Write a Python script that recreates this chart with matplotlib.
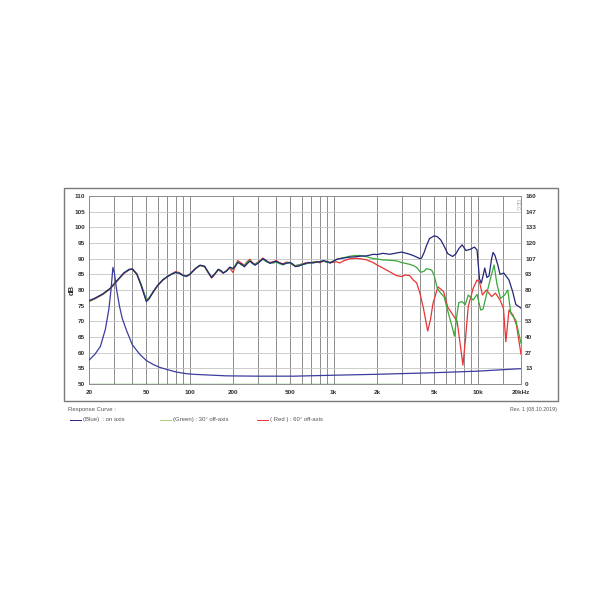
"""
plot.py

Loudspeaker response curve: on-axis, 30 and 60 degree off-axis SPL
plus the impedance trace, drawn on a log frequency axis.
"""

#####################################
# Import Modules
#####################################

import matplotlib
matplotlib.use("Agg")
import matplotlib.pyplot as plt
from matplotlib.patches import Rectangle
from matplotlib.lines import Line2D

#####################################
# Data
#####################################

# shared frequency points for the low / mid band (Hz)
low_freq = [20, 22, 25, 28, 31, 35, 38, 40, 43, 46, 50, 52, 56, 60, 65, 70, 75, 80, 85,
            90, 95, 100, 110, 118, 127, 135, 142, 150, 158, 165, 171, 180, 190, 200,
            208, 216, 228, 240, 250, 262, 272, 284, 300, 323, 340, 360, 380, 400, 420,
            446, 470, 497, 520, 540, 570, 600, 630, 668, 720, 764, 800, 850, 900, 945, 1000]

blue_low_db = [76.6, 77.4, 78.8, 80.5, 82.8, 85.5, 86.6, 86.7, 85.0, 81.5, 76.3, 77.0, 79.5,
               81.5, 83.2, 84.3, 85.1, 85.6, 85.3, 84.6, 84.4, 85.0, 86.9, 87.9, 87.6, 85.6,
               84.0, 85.2, 86.6, 86.2, 85.4, 86.0, 87.3, 86.9, 87.6, 88.8, 88.3, 87.4, 88.3,
               89.2, 88.7, 87.9, 88.6, 90.0, 89.4, 88.5, 88.9, 89.2, 88.7, 88.2, 88.5, 88.8,
               88.3, 87.5, 87.6, 88.0, 88.4, 88.8, 88.6, 89.0, 88.9, 89.4, 89.0, 88.6, 89.2]

green_low_db = [76.4, 77.3, 78.7, 80.4, 82.7, 85.4, 86.5, 86.6, 85.1, 81.8, 77.0, 77.4, 79.6,
                81.5, 83.2, 84.3, 85.0, 85.7, 85.4, 84.7, 84.4, 85.0, 86.9, 87.9, 87.5, 85.5,
                84.1, 85.3, 86.5, 86.0, 85.5, 86.1, 87.2, 86.6, 88.0, 89.1, 88.0, 87.7, 88.8,
                89.4, 88.4, 88.2, 88.9, 89.8, 89.0, 88.7, 88.6, 88.9, 88.4, 88.0, 88.8, 88.6,
                88.0, 87.8, 87.9, 88.3, 88.2, 88.6, 88.9, 88.8, 89.1, 89.2, 88.8, 88.9, 89.3]

red_low_db = [76.3, 77.2, 78.6, 80.3, 82.6, 85.3, 86.4, 86.8, 85.2, 81.7, 76.6, 77.2, 79.4,
              81.4, 83.1, 84.2, 85.1, 85.9, 85.5, 84.8, 84.3, 84.9, 86.8, 87.8, 87.4, 85.4,
              83.8, 85.1, 86.4, 85.9, 85.4, 86.2, 87.0, 85.6, 87.9, 89.4, 88.6, 87.9, 89.0,
              89.8, 88.8, 88.2, 89.0, 90.2, 89.2, 88.8, 89.0, 89.4, 88.6, 88.4, 88.9, 88.7,
              88.1, 87.7, 88.0, 88.2, 88.6, 88.5, 88.9, 89.1, 88.7, 89.2, 89.1, 88.7, 88.9]

# on-axis (blue) above 1 kHz
blue_hi_freq = [1052, 1100, 1170, 1300, 1420, 1530, 1700, 1890, 2000, 2200, 2450, 2730, 2960,
                3150, 3370, 3570, 3770, 3970, 4080, 4250, 4400, 4630, 5000, 5250, 5540, 5850,
                6200, 6700, 7050, 7400, 7800, 8300, 8900, 9500, 9900, 10300, 10600, 10900,
                11200, 11600, 12000, 12500, 12800, 13200, 13800, 14300, 15200, 16500, 17500,
                18400, 20000]
blue_hi_db = [89.8, 90.0, 90.2, 90.5, 90.6, 90.8, 90.9, 91.4, 91.3, 91.7, 91.4, 91.8, 92.1,
              91.8, 91.4, 91.0, 90.5, 90.0, 90.2, 92.0, 94.0, 96.4, 97.3, 97.0, 96.0, 94.0,
              91.6, 90.7, 91.5, 93.2, 94.4, 92.6, 93.0, 93.7, 92.8, 83.5, 82.2, 84.5,
              87.0, 84.0, 84.5, 90.0, 92.0, 91.0, 88.0, 85.0, 85.4, 83.2, 79.5,
              75.4, 74.2]

# 30 deg off-axis (green) above 1 kHz
green_hi_freq = [1052, 1170, 1300, 1420, 1530, 1700, 1890, 2000, 2200, 2450, 2730, 2960, 3150,
                 3370, 3570, 3770, 3970, 4080, 4250, 4400, 4630, 4800, 5000, 5250, 5540, 5850,
                 6200, 6600, 6900, 7200, 7400, 7800, 8200, 8600, 9300, 9900, 10500, 10900,
                 11500, 12200, 13000, 13600, 14400, 15400, 16200, 17000, 18400, 20000]
green_hi_db = [89.8, 90.3, 90.8, 91.0, 91.0, 90.6, 90.0, 89.9, 89.6, 89.5, 89.3, 88.8, 88.5,
               88.2, 87.8, 87.2, 85.9, 85.7, 86.0, 86.8, 86.6, 86.3, 84.5, 80.5, 79.0, 77.8,
               73.3, 68.8, 65.3, 72.5, 76.0, 76.3, 75.3, 78.4, 76.8, 78.6, 73.6, 73.9,
               78.4, 83.2, 88.0, 82.0, 77.3, 78.4, 80.0, 72.5, 70.4, 63.0]

# 60 deg off-axis (red) above 1 kHz
red_hi_freq = [1052, 1100, 1170, 1300, 1420, 1530, 1700, 1890, 2000, 2200, 2450, 2730, 2960,
               3150, 3370, 3570, 3770, 3970, 4200, 4500, 4700, 4900, 5300, 5800, 6200, 6700,
               7200, 7400, 7700, 7900, 8200, 8600, 9300, 9900, 10300, 10800, 11500, 12500,
               13300, 14300, 15100, 15700, 16500, 17600, 18600, 20000]
red_hi_db = [89.0, 88.6, 89.3, 90.0, 90.1, 90.0, 89.6, 88.7, 88.0, 87.0, 85.8, 84.6, 84.3,
             84.8, 84.6, 83.2, 82.3, 79.0, 74.2, 66.9, 70.5, 75.8, 81.0, 79.5, 74.5, 72.2,
             70.0, 66.0, 60.0, 56.0, 63.5, 74.7, 80.5, 83.2, 82.6, 78.4, 80.0, 77.9,
             79.0, 76.8, 74.2, 63.5, 73.6, 72.0, 68.8, 59.5]

# impedance trace (blue, plotted on the dB scale)
imp_freq = [20, 22, 24, 26, 27.5, 28.5, 29.3, 30, 31, 32.5, 34, 36.5, 40, 45, 50, 56, 62, 70,
            81, 95, 106, 130, 180, 300, 530, 1000, 2000, 5000, 10000, 20000]
imp_db = [57.6, 59.5, 62.0, 67.5, 74.0, 80.5, 87.2, 85.5, 80.5, 75.0, 71.0, 67.0, 62.5, 59.5,
          57.5, 56.2, 55.3, 54.6, 53.8, 53.3, 53.1, 52.9, 52.6, 52.5, 52.5, 52.8, 53.1, 53.6,
          54.1, 54.9]

# green floor trace along the bottom of the chart
floor_freq = [20, 3000]
floor_db = [50, 50]

# axis ticks and labels
x_ticks = [20, 50, 100, 200, 500, 1000, 2000, 5000, 10000, 20000]
x_labels = ["20", "50", "100", "200", "500", "1k", "2k", "5k", "10k", "20kHz"]
x_grid = [20, 30, 40, 50, 60, 70, 80, 90, 100, 200, 300, 400, 500, 600, 700, 800, 900,
          1000, 2000, 3000, 4000, 5000, 6000, 7000, 8000, 9000, 10000, 15000, 20000]
y_ticks = [50, 55, 60, 65, 70, 75, 80, 85, 90, 95, 100, 105, 110]
deg_labels = ["0", "13", "27", "40", "53", "67", "80", "93", "107", "120", "133", "147", "160"]

#####################################
# Styles
#####################################

BLUE = "#25257a"
IMP_BLUE = "#3c3ca0"
GREEN = "#3aa83a"
RED = "#e83434"
TXT = "#333333"
FONT = "Liberation Sans"
W = H = 610.0

plt.rcParams["font.family"] = [FONT, "DejaVu Sans"]

fig = plt.figure(figsize=(6.1, 6.1), dpi=100)
fig.patch.set_facecolor("white")

# outer frame
fig.add_artist(Rectangle((64 / W, 1 - 401 / H), (558 - 64) / W, (401 - 188) / H,
                         transform=fig.transFigure, fill=False, edgecolor="#7a7a7a", lw=1.0))

ax = fig.add_axes([89 / W, 1 - 384 / H, (521 - 89) / W, 188 / H])
ax.set_xscale("log")
ax.set_xlim(20, 20000)
ax.set_ylim(50, 110)

# grid lines
for f in x_grid:
    ax.axvline(f, color="#8c8c8c", lw=0.7, zorder=1)
for y in y_ticks:
    ax.axhline(y, color="#c4c4c4", lw=0.6, zorder=1)
for s in ax.spines.values():
    s.set_color("#8c8c8c")
    s.set_linewidth(0.7)

#####################################
# Curves
#####################################

ax.plot(floor_freq, floor_db, color=GREEN, lw=1.0, zorder=2)
ax.plot(imp_freq, imp_db, color=IMP_BLUE, lw=0.9, zorder=3)
ax.plot(low_freq + red_hi_freq, red_low_db + red_hi_db, color=RED, lw=0.9, zorder=3)
ax.plot(low_freq + green_hi_freq, green_low_db + green_hi_db, color=GREEN, lw=0.9, zorder=4)
ax.plot(low_freq + blue_hi_freq, blue_low_db + blue_hi_db, color=BLUE, lw=0.9, zorder=5)

#####################################
# Ticks and labels
#####################################

ax.set_xticks(x_ticks)
ax.set_xticklabels(x_labels)
ax.set_xticks([], minor=True)
ax.set_yticks(y_ticks)
ax.tick_params(axis="both", length=0, labelsize=4.6, labelcolor=TXT)
ax.tick_params(axis="x", pad=4)
ax.tick_params(axis="y", pad=3)
for lab in ax.get_xticklabels() + ax.get_yticklabels():
    lab.set_fontweight("bold")

ax2 = ax.twinx()
ax2.set_ylim(0, 160)
ax2.set_yticks([160 * k / 12 for k in range(13)])
ax2.set_yticklabels(deg_labels)
ax2.tick_params(axis="y", length=0, labelsize=4.6, labelcolor=TXT, pad=3)
for lab in ax2.get_yticklabels():
    lab.set_fontweight("bold")
for s in ax2.spines.values():
    s.set_visible(False)

ax.text(0.99, 0.985, "DEG", transform=ax.transAxes, rotation=-90, ha="center", va="top",
        fontsize=4, color="#b0b0b0")

fig.text(72 / W, 1 - 290 / H, "dB", rotation=90, ha="center", va="center",
         fontsize=5.5, fontweight="bold", color=TXT)

#####################################
# Caption and legend
#####################################

fig.text(68 / W, 1 - 409 / H, "Response Curve :", ha="left", va="center", fontsize=4.3,
         color="#555555")
fig.text(557 / W, 1 - 409 / H, "Rev. 1 (08.10.2019)", ha="right", va="center",
         fontsize=3.8, color="#555555")

legend_items = [(70, BLUE, "(Blue)  : on axis"),
                (160, "#a8d080", "(Green) : 30\u00b0 off-axis"),
                (257, RED, "( Red ) : 60\u00b0 off-axis")]
for x0, col, label in legend_items:
    fig.add_artist(Line2D([x0 / W, (x0 + 11) / W], [1 - 420 / H, 1 - 420 / H],
                          transform=fig.transFigure, color=col, lw=0.7))
    fig.text((x0 + 13) / W, 1 - 420 / H, label, ha="left", va="center", fontsize=4.3,
             color="#555555")

fig.savefig("out.png", dpi=100, facecolor="white")
